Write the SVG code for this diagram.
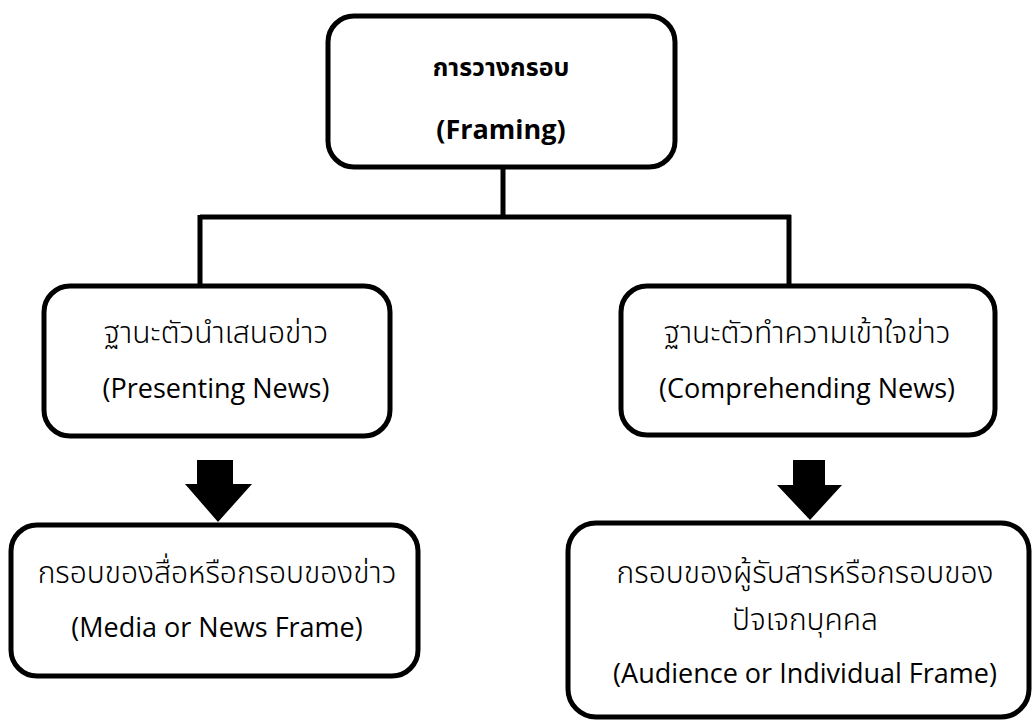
<svg xmlns="http://www.w3.org/2000/svg" width="1032" height="724" viewBox="0 0 1032 724">
<style>
.box{fill:#fff;stroke:#000;stroke-width:5}
.t{font-family:"Open Sans","Noto Sans","Noto Sans Thai",sans-serif;font-size:27px;fill:#000;text-anchor:middle}
.th{font-family:"Noto Sans Thai","Noto Sans","Open Sans",sans-serif;font-size:30px;font-weight:300}
.b{font-weight:bold}
.bt{font-size:25px}
.bl{font-size:27px}
.ln{stroke:#000;stroke-width:5;fill:none}
</style>
<rect width="1032" height="724" fill="#fff"/>
<g id="connectors">
<path class="ln" d="M503 167V217M200 217H791M200 215V286M789 215V286"/>
<polygon points="197,460 233,460 233,484 252,484 218,522 185,484 197,484" fill="#000"/>
<polygon points="793,460 825,460 825,485 842,485 810,520 777,485 793,485" fill="#000"/>
</g>
<g id="n0">
<rect class="box" x="328" y="16" width="347" height="151" rx="26"/>
<text class="t th b bt" x="501" y="76">การวางกรอบ</text>
<text class="t b bl" x="501" y="139">(Framing)</text>
</g>
<g id="n1">
<rect class="box" x="44" y="286" width="346" height="150" rx="26"/>
<text class="t th" x="216" y="343">ฐานะตัวนำเสนอข่าว</text>
<text class="t" x="216" y="398">(Presenting News)</text>
</g>
<g id="n2">
<rect class="box" x="621" y="286" width="374" height="149" rx="26"/>
<text class="t th" x="807" y="343">ฐานะตัวทำความเข้าใจข่าว</text>
<text class="t" x="807" y="398">(Comprehending News)</text>
</g>
<g id="n3">
<rect class="box" x="11" y="525" width="407" height="151" rx="26"/>
<text class="t th" x="217" y="583">กรอบของสื่อหรือกรอบของข่าว</text>
<text class="t" x="217" y="637">(Media or News Frame)</text>
</g>
<g id="n4">
<rect class="box" x="568" y="523" width="461" height="194" rx="28"/>
<text class="t th" x="805" y="583">กรอบของผู้รับสารหรือกรอบของ</text>
<text class="t th" x="805" y="630">ปัจเจกบุคคล</text>
<text class="t" x="805" y="683">(Audience or Individual Frame)</text>
</g>
</svg>
